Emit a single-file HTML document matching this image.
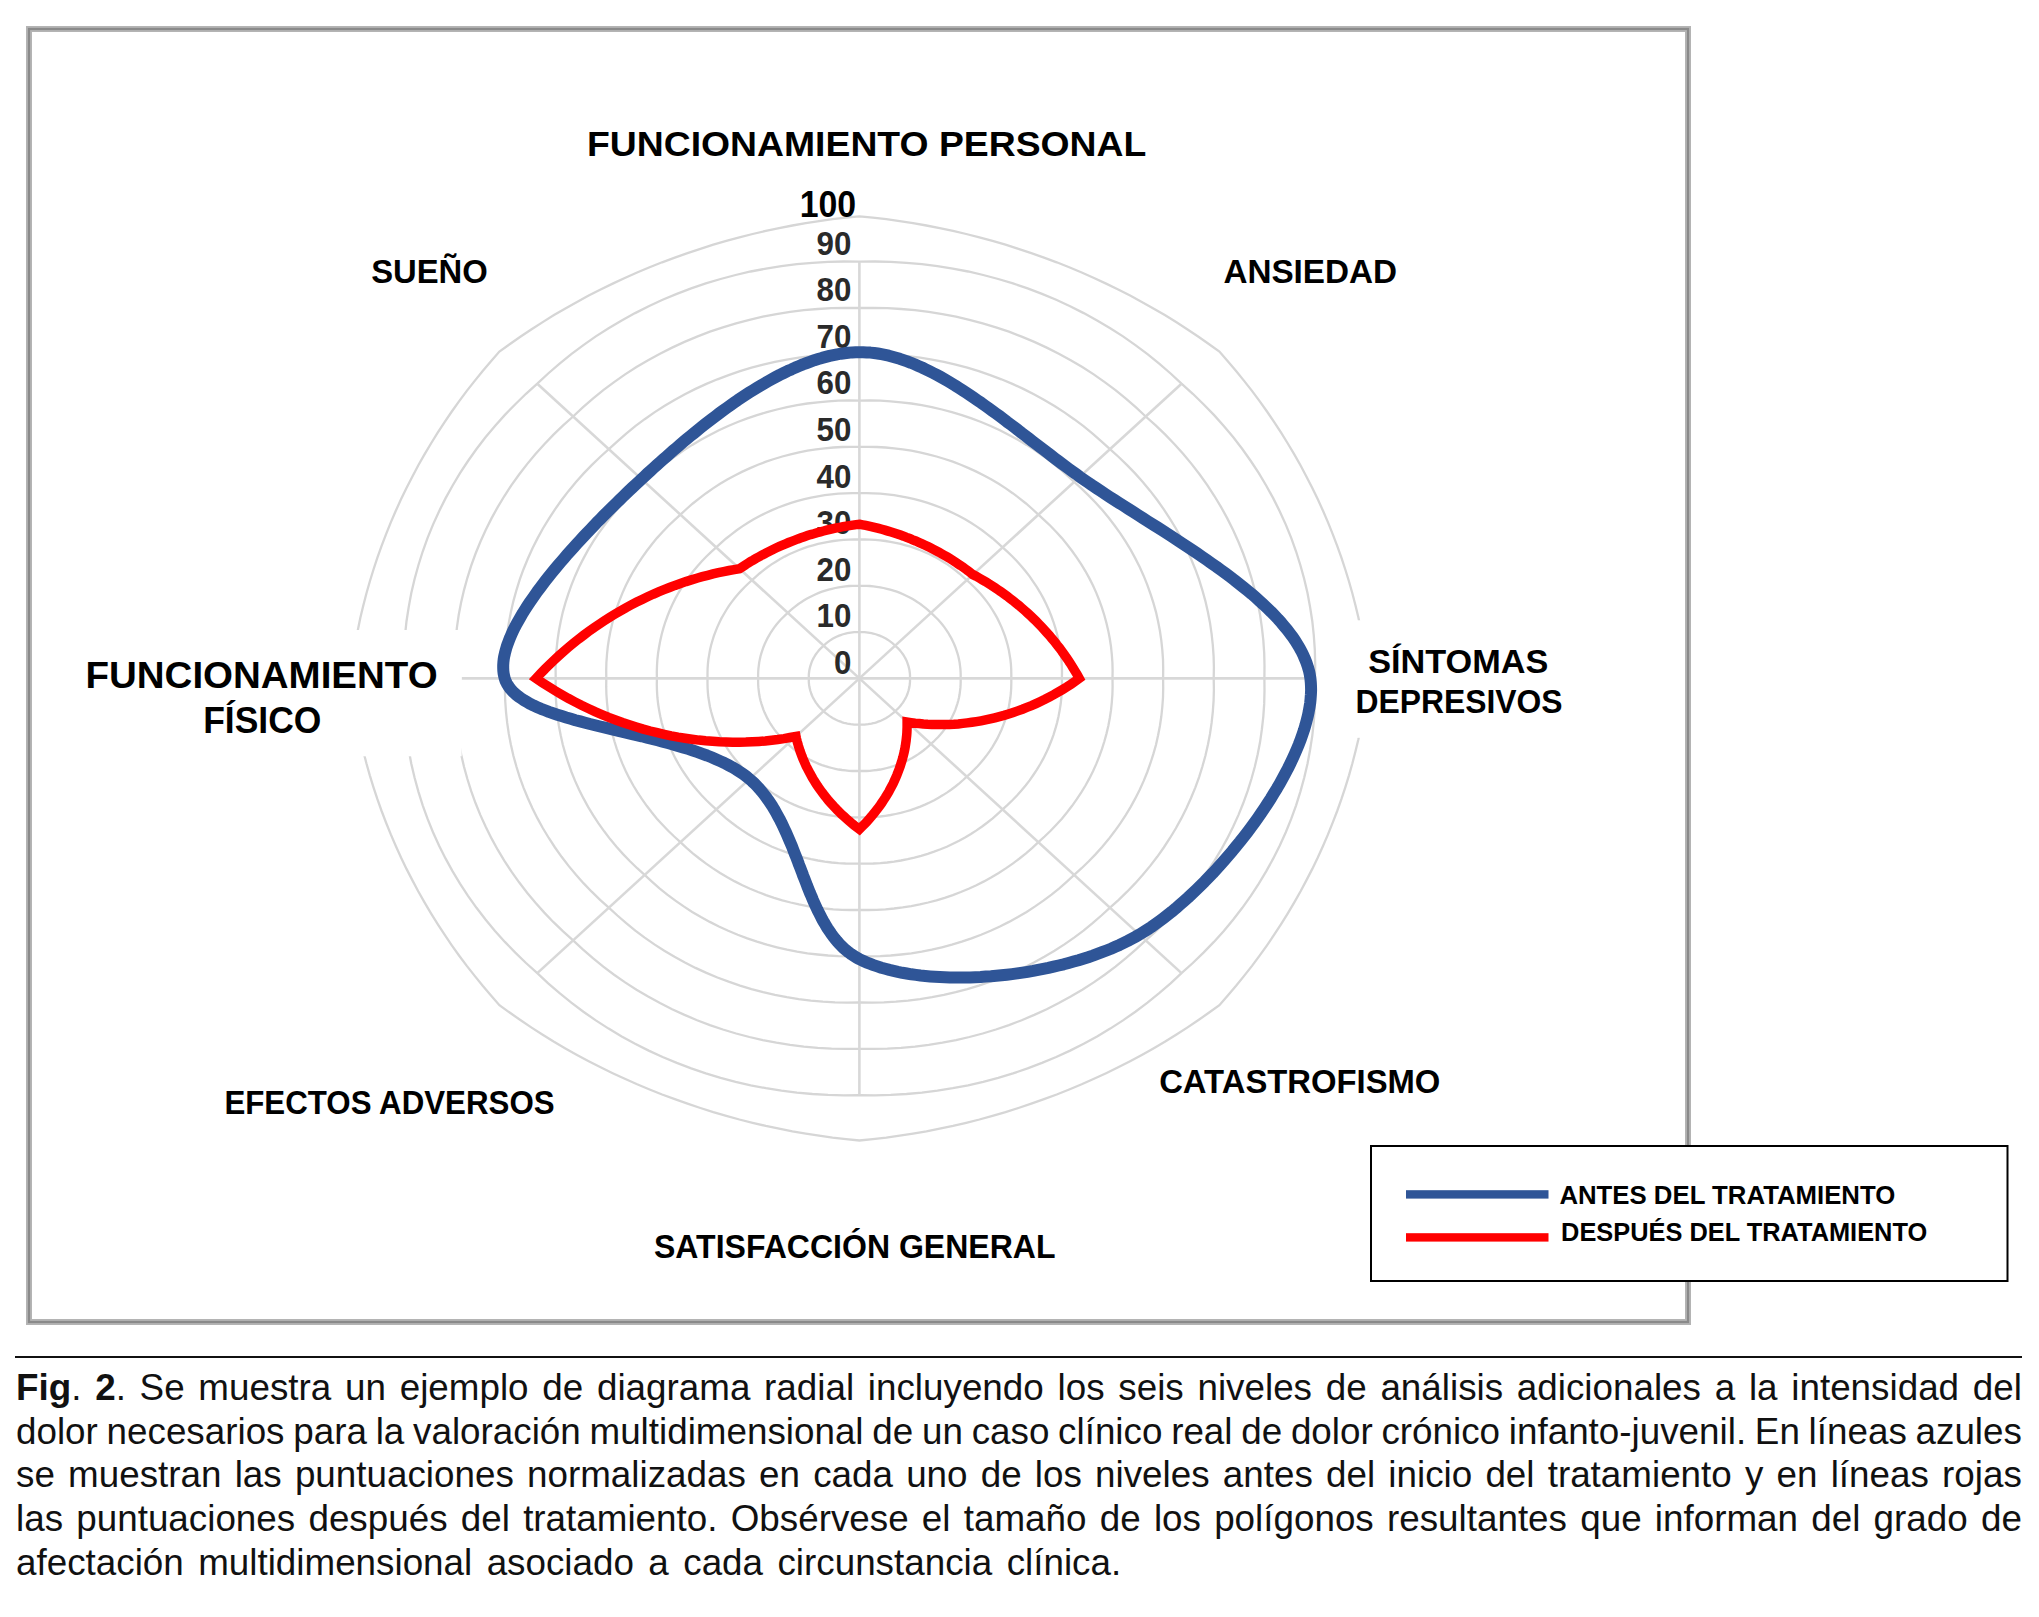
<!DOCTYPE html>
<html><head><meta charset="utf-8">
<style>
html,body{margin:0;padding:0;background:#fff;}
body{width:2039px;height:1617px;position:relative;overflow:hidden;font-family:"Liberation Sans",sans-serif;}
svg{position:absolute;left:0;top:0;}
svg text{font-family:"Liberation Sans",sans-serif;}
.cap{position:absolute;left:16px;width:2006px;height:44px;line-height:44px;font-size:36.8px;color:#111;white-space:nowrap;}
.j{display:flex;justify-content:space-between;}
.cap b{font-weight:bold;}
.rule{position:absolute;left:15px;width:2007px;top:1356px;height:2px;background:#111;}
</style></head>
<body>
<svg width="2039" height="1617" viewBox="0 0 2039 1617">
<defs><filter id="bl" x="-2%" y="-2%" width="104%" height="104%"><feGaussianBlur stdDeviation="0.8"/></filter></defs>
<!-- frame -->
<rect x="29" y="29" width="1659" height="1293" fill="none" stroke="#b4b4b4" stroke-width="6"/>
<rect x="29" y="29" width="1659" height="1293" fill="none" stroke="#8a8a8a" stroke-width="2.2"/>
<g >
<!-- grid -->
<g fill="none" stroke="#d6d6d6" stroke-width="2.3">
<path d="M859.4,632.1 L861.1,632.1 L862.9,632.1 L864.6,632.2 L866.3,632.4 L868.1,632.6 L869.8,632.9 L871.5,633.2 L873.2,633.6 L874.8,634.0 L876.5,634.5 L878.1,635.1 L879.7,635.7 L881.3,636.3 L882.8,637.0 L884.3,637.8 L885.8,638.6 L887.3,639.5 L888.7,640.4 L890.1,641.4 L891.4,642.4 L892.7,643.4 L894.0,644.5 L895.2,645.7 L896.4,646.8 L897.6,647.9 L898.8,649.1 L899.9,650.3 L900.9,651.6 L901.9,652.9 L902.9,654.2 L903.8,655.6 L904.6,657.0 L905.4,658.4 L906.1,659.8 L906.8,661.3 L907.4,662.8 L907.9,664.3 L908.4,665.8 L908.8,667.4 L909.2,668.9 L909.5,670.5 L909.7,672.0 L909.9,673.6 L910.0,675.2 L910.0,676.8 L910.0,678.4 L910.0,680.0 L910.0,681.6 L909.9,683.2 L909.7,684.8 L909.5,686.3 L909.2,687.9 L908.8,689.4 L908.4,691.0 L907.9,692.5 L907.4,694.0 L906.8,695.5 L906.1,697.0 L905.4,698.4 L904.6,699.8 L903.8,701.2 L902.9,702.6 L901.9,703.9 L900.9,705.2 L899.9,706.5 L898.8,707.7 L897.6,708.9 L896.4,710.0 L895.2,711.1 L894.0,712.3 L892.7,713.4 L891.4,714.4 L890.1,715.4 L888.7,716.4 L887.3,717.3 L885.8,718.2 L884.3,719.0 L882.8,719.8 L881.3,720.5 L879.7,721.1 L878.1,721.7 L876.5,722.3 L874.8,722.8 L873.2,723.2 L871.5,723.6 L869.8,723.9 L868.1,724.2 L866.3,724.4 L864.6,724.6 L862.9,724.7 L861.1,724.7 L859.4,724.7 L857.7,724.7 L855.9,724.7 L854.2,724.6 L852.5,724.4 L850.7,724.2 L849.0,723.9 L847.3,723.6 L845.6,723.2 L844.0,722.8 L842.3,722.3 L840.7,721.7 L839.1,721.1 L837.5,720.5 L836.0,719.8 L834.5,719.0 L833.0,718.2 L831.5,717.3 L830.1,716.4 L828.7,715.4 L827.4,714.4 L826.1,713.4 L824.8,712.3 L823.6,711.1 L822.4,710.0 L821.2,708.9 L820.0,707.7 L818.9,706.5 L817.9,705.2 L816.9,703.9 L815.9,702.6 L815.0,701.2 L814.2,699.8 L813.4,698.4 L812.7,697.0 L812.0,695.5 L811.4,694.0 L810.9,692.5 L810.4,691.0 L810.0,689.4 L809.6,687.9 L809.3,686.3 L809.1,684.8 L808.9,683.2 L808.8,681.6 L808.8,680.0 L808.8,678.4 L808.8,676.8 L808.8,675.2 L808.9,673.6 L809.1,672.0 L809.3,670.5 L809.6,668.9 L810.0,667.4 L810.4,665.8 L810.9,664.3 L811.4,662.8 L812.0,661.3 L812.7,659.8 L813.4,658.4 L814.2,657.0 L815.0,655.6 L815.9,654.2 L816.9,652.9 L817.9,651.6 L818.9,650.3 L820.0,649.1 L821.2,647.9 L822.4,646.8 L823.6,645.7 L824.8,644.5 L826.1,643.4 L827.4,642.4 L828.7,641.4 L830.1,640.4 L831.5,639.5 L833.0,638.6 L834.5,637.8 L836.0,637.0 L837.5,636.3 L839.1,635.7 L840.7,635.1 L842.3,634.5 L844.0,634.0 L845.6,633.6 L847.3,633.2 L849.0,632.9 L850.7,632.6 L852.5,632.4 L854.2,632.2 L855.9,632.1 L857.7,632.1 L859.4,632.1 Z"/>
<path d="M859.4,585.8 L862.9,585.8 L866.4,585.8 L869.8,586.0 L873.3,586.4 L876.7,586.8 L880.2,587.3 L883.5,588.0 L886.9,588.8 L890.2,589.6 L893.5,590.6 L896.8,591.7 L900.0,592.9 L903.1,594.3 L906.2,595.7 L909.3,597.2 L912.2,598.8 L915.1,600.6 L918.0,602.4 L920.7,604.3 L923.4,606.3 L926.0,608.4 L928.6,610.6 L931.0,612.9 L933.5,615.1 L935.9,617.5 L938.2,619.8 L940.4,622.3 L942.5,624.8 L944.5,627.4 L946.4,630.1 L948.2,632.8 L949.8,635.6 L951.4,638.4 L952.8,641.3 L954.2,644.2 L955.4,647.2 L956.4,650.2 L957.4,653.2 L958.3,656.3 L959.0,659.4 L959.6,662.5 L960.0,665.7 L960.4,668.9 L960.6,672.0 L960.7,675.2 L960.6,678.4 L960.7,681.6 L960.6,684.8 L960.4,687.9 L960.0,691.1 L959.6,694.3 L959.0,697.4 L958.3,700.5 L957.4,703.6 L956.4,706.6 L955.4,709.6 L954.2,712.6 L952.8,715.5 L951.4,718.4 L949.8,721.2 L948.2,724.0 L946.4,726.7 L944.5,729.4 L942.5,732.0 L940.4,734.5 L938.2,737.0 L935.9,739.3 L933.5,741.7 L931.0,743.9 L928.6,746.2 L926.0,748.4 L923.4,750.5 L920.7,752.5 L918.0,754.4 L915.1,756.2 L912.2,758.0 L909.3,759.6 L906.2,761.1 L903.1,762.5 L900.0,763.9 L896.8,765.1 L893.5,766.2 L890.2,767.2 L886.9,768.0 L883.5,768.8 L880.2,769.5 L876.7,770.0 L873.3,770.4 L869.8,770.8 L866.4,771.0 L862.9,771.0 L859.4,771.0 L855.9,771.0 L852.4,771.0 L849.0,770.8 L845.5,770.4 L842.1,770.0 L838.6,769.5 L835.3,768.8 L831.9,768.0 L828.6,767.2 L825.3,766.2 L822.0,765.1 L818.8,763.9 L815.7,762.5 L812.6,761.1 L809.5,759.6 L806.6,758.0 L803.7,756.2 L800.8,754.4 L798.1,752.5 L795.4,750.5 L792.8,748.4 L790.2,746.2 L787.8,743.9 L785.3,741.7 L782.9,739.3 L780.6,737.0 L778.4,734.5 L776.3,732.0 L774.3,729.4 L772.4,726.7 L770.6,724.0 L769.0,721.2 L767.4,718.4 L766.0,715.5 L764.6,712.6 L763.4,709.6 L762.4,706.6 L761.4,703.6 L760.5,700.5 L759.8,697.4 L759.2,694.3 L758.8,691.1 L758.4,687.9 L758.2,684.8 L758.1,681.6 L758.2,678.4 L758.1,675.2 L758.2,672.0 L758.4,668.9 L758.8,665.7 L759.2,662.5 L759.8,659.4 L760.5,656.3 L761.4,653.2 L762.4,650.2 L763.4,647.2 L764.6,644.2 L766.0,641.3 L767.4,638.4 L769.0,635.6 L770.6,632.8 L772.4,630.1 L774.3,627.4 L776.3,624.8 L778.4,622.3 L780.6,619.8 L782.9,617.5 L785.3,615.1 L787.8,612.9 L790.2,610.6 L792.8,608.4 L795.4,606.3 L798.1,604.3 L800.8,602.4 L803.7,600.6 L806.6,598.8 L809.5,597.2 L812.6,595.7 L815.7,594.3 L818.8,592.9 L822.0,591.7 L825.3,590.6 L828.6,589.6 L831.9,588.8 L835.3,588.0 L838.6,587.3 L842.1,586.8 L845.5,586.4 L849.0,586.0 L852.4,585.8 L855.9,585.8 L859.4,585.8 Z"/>
<path d="M859.4,539.5 L864.6,539.4 L869.8,539.6 L875.1,539.9 L880.2,540.3 L885.4,541.0 L890.5,541.8 L895.6,542.8 L900.7,543.9 L905.7,545.3 L910.6,546.7 L915.5,548.4 L920.3,550.2 L925.0,552.2 L929.6,554.3 L934.2,556.6 L938.6,559.1 L943.0,561.7 L947.3,564.4 L951.4,567.3 L955.4,570.3 L959.3,573.5 L963.1,576.8 L966.8,580.2 L970.5,583.5 L974.1,587.0 L977.6,590.6 L980.9,594.2 L984.0,598.0 L987.0,601.9 L989.9,605.9 L992.5,610.0 L995.0,614.2 L997.4,618.4 L999.5,622.7 L1001.5,627.1 L1003.3,631.6 L1005.0,636.1 L1006.4,640.7 L1007.7,645.3 L1008.8,649.9 L1009.6,654.6 L1010.4,659.3 L1010.9,664.1 L1011.2,668.8 L1011.3,673.6 L1011.3,678.4 L1011.3,683.2 L1011.2,688.0 L1010.9,692.7 L1010.4,697.5 L1009.6,702.2 L1008.8,706.9 L1007.7,711.5 L1006.4,716.1 L1005.0,720.7 L1003.3,725.2 L1001.5,729.7 L999.5,734.1 L997.4,738.4 L995.0,742.6 L992.5,746.8 L989.9,750.9 L987.0,754.9 L984.0,758.8 L980.9,762.6 L977.6,766.2 L974.1,769.8 L970.5,773.3 L966.8,776.6 L963.1,780.0 L959.3,783.3 L955.4,786.5 L951.4,789.5 L947.3,792.4 L943.0,795.1 L938.6,797.7 L934.2,800.2 L929.6,802.5 L925.0,804.6 L920.3,806.6 L915.5,808.4 L910.6,810.1 L905.7,811.5 L900.7,812.9 L895.6,814.0 L890.5,815.0 L885.4,815.8 L880.2,816.5 L875.1,816.9 L869.8,817.2 L864.6,817.4 L859.4,817.3 L854.2,817.4 L849.0,817.2 L843.7,816.9 L838.6,816.5 L833.4,815.8 L828.3,815.0 L823.2,814.0 L818.1,812.9 L813.1,811.5 L808.2,810.1 L803.3,808.4 L798.5,806.6 L793.8,804.6 L789.2,802.5 L784.6,800.2 L780.2,797.7 L775.8,795.1 L771.5,792.4 L767.4,789.5 L763.4,786.5 L759.5,783.3 L755.7,780.0 L752.0,776.6 L748.3,773.3 L744.7,769.8 L741.2,766.2 L737.9,762.6 L734.8,758.8 L731.8,754.9 L728.9,750.9 L726.3,746.8 L723.8,742.6 L721.4,738.4 L719.3,734.1 L717.3,729.7 L715.5,725.2 L713.8,720.7 L712.4,716.1 L711.1,711.5 L710.0,706.9 L709.2,702.2 L708.4,697.5 L707.9,692.7 L707.6,688.0 L707.5,683.2 L707.5,678.4 L707.5,673.6 L707.6,668.8 L707.9,664.1 L708.4,659.3 L709.2,654.6 L710.0,649.9 L711.1,645.3 L712.4,640.7 L713.8,636.1 L715.5,631.6 L717.3,627.1 L719.3,622.7 L721.4,618.4 L723.8,614.2 L726.3,610.0 L728.9,605.9 L731.8,601.9 L734.8,598.0 L737.9,594.2 L741.2,590.6 L744.7,587.0 L748.3,583.5 L752.0,580.2 L755.7,576.8 L759.5,573.5 L763.4,570.3 L767.4,567.3 L771.5,564.4 L775.8,561.7 L780.2,559.1 L784.6,556.6 L789.2,554.3 L793.8,552.2 L798.5,550.2 L803.3,548.4 L808.2,546.7 L813.1,545.3 L818.1,543.9 L823.2,542.8 L828.3,541.8 L833.4,541.0 L838.6,540.3 L843.7,539.9 L849.0,539.6 L854.2,539.4 L859.4,539.5 Z"/>
<path d="M859.4,493.2 L866.4,493.1 L873.3,493.3 L880.3,493.7 L887.2,494.3 L894.1,495.2 L900.9,496.3 L907.7,497.6 L914.4,499.1 L921.1,500.9 L927.7,502.9 L934.1,505.1 L940.5,507.5 L946.8,510.1 L953.0,513.0 L959.1,516.0 L965.1,519.3 L970.9,522.8 L976.5,526.4 L982.1,530.3 L987.4,534.3 L992.7,538.5 L997.7,542.9 L1002.6,547.4 L1007.6,551.9 L1012.4,556.5 L1017.0,561.3 L1021.4,566.2 L1025.6,571.3 L1029.6,576.4 L1033.3,581.8 L1036.9,587.2 L1040.3,592.8 L1043.4,598.4 L1046.3,604.2 L1048.9,610.0 L1051.3,616.0 L1053.5,622.0 L1055.4,628.1 L1057.1,634.2 L1058.5,640.4 L1059.7,646.7 L1060.7,653.0 L1061.4,659.3 L1061.8,665.7 L1062.0,672.0 L1061.9,678.4 L1062.0,684.8 L1061.8,691.1 L1061.4,697.5 L1060.7,703.8 L1059.7,710.1 L1058.5,716.4 L1057.1,722.6 L1055.4,728.7 L1053.5,734.8 L1051.3,740.8 L1048.9,746.8 L1046.3,752.6 L1043.4,758.4 L1040.3,764.0 L1036.9,769.6 L1033.3,775.0 L1029.6,780.4 L1025.6,785.5 L1021.4,790.6 L1017.0,795.5 L1012.4,800.3 L1007.6,804.9 L1002.6,809.4 L997.7,813.9 L992.7,818.3 L987.4,822.5 L982.1,826.5 L976.5,830.4 L970.9,834.0 L965.1,837.5 L959.1,840.8 L953.0,843.8 L946.8,846.7 L940.5,849.3 L934.1,851.7 L927.7,853.9 L921.1,855.9 L914.4,857.7 L907.7,859.2 L900.9,860.5 L894.1,861.6 L887.2,862.5 L880.3,863.1 L873.3,863.5 L866.4,863.7 L859.4,863.6 L852.4,863.7 L845.5,863.5 L838.5,863.1 L831.6,862.5 L824.7,861.6 L817.9,860.5 L811.1,859.2 L804.4,857.7 L797.7,855.9 L791.1,853.9 L784.7,851.7 L778.3,849.3 L772.0,846.7 L765.8,843.8 L759.7,840.8 L753.7,837.5 L747.9,834.0 L742.3,830.4 L736.7,826.5 L731.4,822.5 L726.1,818.3 L721.1,813.9 L716.2,809.4 L711.2,804.9 L706.4,800.3 L701.8,795.5 L697.4,790.6 L693.2,785.5 L689.2,780.4 L685.5,775.0 L681.9,769.6 L678.5,764.0 L675.4,758.4 L672.5,752.6 L669.9,746.8 L667.5,740.8 L665.3,734.8 L663.4,728.7 L661.7,722.6 L660.3,716.4 L659.1,710.1 L658.1,703.8 L657.4,697.5 L657.0,691.1 L656.8,684.8 L656.9,678.4 L656.8,672.0 L657.0,665.7 L657.4,659.3 L658.1,653.0 L659.1,646.7 L660.3,640.4 L661.7,634.2 L663.4,628.1 L665.3,622.0 L667.5,616.0 L669.9,610.0 L672.5,604.2 L675.4,598.4 L678.5,592.8 L681.9,587.2 L685.5,581.8 L689.2,576.4 L693.2,571.3 L697.4,566.2 L701.8,561.3 L706.4,556.5 L711.2,551.9 L716.2,547.4 L721.1,542.9 L726.1,538.5 L731.4,534.3 L736.7,530.3 L742.3,526.4 L747.9,522.8 L753.7,519.3 L759.7,516.0 L765.8,513.0 L772.0,510.1 L778.3,507.5 L784.7,505.1 L791.1,502.9 L797.7,500.9 L804.4,499.1 L811.1,497.6 L817.9,496.3 L824.7,495.2 L831.6,494.3 L838.5,493.7 L845.5,493.3 L852.4,493.1 L859.4,493.2 Z"/>
<path d="M859.4,446.9 L868.1,446.8 L876.8,447.0 L885.5,447.5 L894.1,448.3 L902.7,449.4 L911.3,450.7 L919.8,452.4 L928.2,454.3 L936.5,456.5 L944.7,459.0 L952.8,461.7 L960.8,464.8 L968.7,468.1 L976.4,471.6 L984.0,475.4 L991.5,479.5 L998.7,483.8 L1005.8,488.4 L1012.7,493.2 L1019.5,498.3 L1026.0,503.5 L1032.3,509.0 L1038.4,514.7 L1044.6,520.3 L1050.6,526.0 L1056.3,532.0 L1061.9,538.1 L1067.1,544.5 L1072.1,551.0 L1076.8,557.6 L1081.3,564.4 L1085.5,571.3 L1089.4,578.4 L1093.0,585.6 L1096.3,592.9 L1099.3,600.4 L1102.0,607.9 L1104.4,615.5 L1106.5,623.2 L1108.3,630.9 L1109.8,638.8 L1111.0,646.6 L1111.8,654.5 L1112.4,662.5 L1112.6,670.4 L1112.5,678.4 L1112.6,686.4 L1112.4,694.3 L1111.8,702.3 L1111.0,710.2 L1109.8,718.0 L1108.3,725.9 L1106.5,733.6 L1104.4,741.3 L1102.0,748.9 L1099.3,756.4 L1096.3,763.9 L1093.0,771.2 L1089.4,778.4 L1085.5,785.5 L1081.3,792.4 L1076.8,799.2 L1072.1,805.8 L1067.1,812.3 L1061.9,818.7 L1056.3,824.8 L1050.6,830.8 L1044.6,836.5 L1038.4,842.1 L1032.3,847.8 L1026.0,853.3 L1019.5,858.5 L1012.7,863.6 L1005.8,868.4 L998.7,873.0 L991.5,877.3 L984.0,881.4 L976.4,885.2 L968.7,888.7 L960.8,892.0 L952.8,895.1 L944.7,897.8 L936.5,900.3 L928.2,902.5 L919.8,904.4 L911.3,906.1 L902.7,907.4 L894.1,908.5 L885.5,909.3 L876.8,909.8 L868.1,910.0 L859.4,909.9 L850.7,910.0 L842.0,909.8 L833.3,909.3 L824.7,908.5 L816.1,907.4 L807.5,906.1 L799.0,904.4 L790.6,902.5 L782.3,900.3 L774.1,897.8 L766.0,895.1 L758.0,892.0 L750.1,888.7 L742.4,885.2 L734.8,881.4 L727.3,877.3 L720.1,873.0 L713.0,868.4 L706.1,863.6 L699.3,858.5 L692.8,853.3 L686.5,847.8 L680.4,842.1 L674.2,836.5 L668.2,830.8 L662.5,824.8 L656.9,818.7 L651.7,812.3 L646.7,805.8 L642.0,799.2 L637.5,792.4 L633.3,785.5 L629.4,778.4 L625.8,771.2 L622.5,763.9 L619.5,756.4 L616.8,748.9 L614.4,741.3 L612.3,733.6 L610.5,725.9 L609.0,718.0 L607.8,710.2 L607.0,702.3 L606.4,694.3 L606.2,686.4 L606.3,678.4 L606.2,670.4 L606.4,662.5 L607.0,654.5 L607.8,646.6 L609.0,638.8 L610.5,630.9 L612.3,623.2 L614.4,615.5 L616.8,607.9 L619.5,600.4 L622.5,592.9 L625.8,585.6 L629.4,578.4 L633.3,571.3 L637.5,564.4 L642.0,557.6 L646.7,551.0 L651.7,544.5 L656.9,538.1 L662.5,532.0 L668.2,526.0 L674.2,520.3 L680.4,514.7 L686.5,509.0 L692.8,503.5 L699.3,498.3 L706.1,493.2 L713.0,488.4 L720.1,483.8 L727.3,479.5 L734.8,475.4 L742.4,471.6 L750.1,468.1 L758.0,464.8 L766.0,461.7 L774.1,459.0 L782.3,456.5 L790.6,454.3 L799.0,452.4 L807.5,450.7 L816.1,449.4 L824.7,448.3 L833.3,447.5 L842.0,447.0 L850.7,446.8 L859.4,446.9 Z"/>
<path d="M859.4,400.6 L869.9,400.5 L880.3,400.7 L890.7,401.3 L901.1,402.3 L911.4,403.5 L921.7,405.2 L931.8,407.1 L941.9,409.5 L951.9,412.1 L961.8,415.1 L971.5,418.4 L981.1,422.0 L990.6,426.0 L999.9,430.3 L1009.0,434.9 L1017.9,439.7 L1026.6,444.9 L1035.1,450.4 L1043.4,456.2 L1051.5,462.2 L1059.3,468.5 L1066.9,475.1 L1074.2,482.0 L1081.6,488.6 L1088.8,495.6 L1095.7,502.7 L1102.3,510.1 L1108.7,517.7 L1114.6,525.5 L1120.3,533.4 L1125.7,541.6 L1130.7,549.9 L1135.3,558.4 L1139.7,567.1 L1143.7,575.9 L1147.3,584.8 L1150.5,593.8 L1153.4,602.9 L1156.0,612.1 L1158.1,621.5 L1159.9,630.8 L1161.3,640.3 L1162.3,649.8 L1163.0,659.3 L1163.2,668.8 L1163.1,678.4 L1163.2,688.0 L1163.0,697.5 L1162.3,707.0 L1161.3,716.5 L1159.9,726.0 L1158.1,735.3 L1156.0,744.7 L1153.4,753.9 L1150.5,763.0 L1147.3,772.0 L1143.7,780.9 L1139.7,789.7 L1135.3,798.4 L1130.7,806.9 L1125.7,815.2 L1120.3,823.4 L1114.6,831.3 L1108.7,839.1 L1102.3,846.7 L1095.7,854.1 L1088.8,861.2 L1081.6,868.2 L1074.2,874.8 L1066.9,881.7 L1059.3,888.3 L1051.5,894.6 L1043.4,900.6 L1035.1,906.4 L1026.6,911.9 L1017.9,917.1 L1009.0,921.9 L999.9,926.5 L990.6,930.8 L981.1,934.8 L971.5,938.4 L961.8,941.7 L951.9,944.7 L941.9,947.3 L931.8,949.7 L921.7,951.6 L911.4,953.3 L901.1,954.5 L890.7,955.5 L880.3,956.1 L869.9,956.3 L859.4,956.2 L848.9,956.3 L838.5,956.1 L828.1,955.5 L817.7,954.5 L807.4,953.3 L797.1,951.6 L787.0,949.7 L776.9,947.3 L766.9,944.7 L757.0,941.7 L747.3,938.4 L737.7,934.8 L728.2,930.8 L718.9,926.5 L709.8,921.9 L700.9,917.1 L692.2,911.9 L683.7,906.4 L675.4,900.6 L667.3,894.6 L659.5,888.3 L651.9,881.7 L644.6,874.8 L637.2,868.2 L630.0,861.2 L623.1,854.1 L616.5,846.7 L610.1,839.1 L604.2,831.3 L598.5,823.4 L593.1,815.2 L588.1,806.9 L583.5,798.4 L579.1,789.7 L575.1,780.9 L571.5,772.0 L568.3,763.0 L565.4,753.9 L562.8,744.7 L560.7,735.3 L558.9,726.0 L557.5,716.5 L556.5,707.0 L555.8,697.5 L555.6,688.0 L555.7,678.4 L555.6,668.8 L555.8,659.3 L556.5,649.8 L557.5,640.3 L558.9,630.8 L560.7,621.5 L562.8,612.1 L565.4,602.9 L568.3,593.8 L571.5,584.8 L575.1,575.9 L579.1,567.1 L583.5,558.4 L588.1,549.9 L593.1,541.6 L598.5,533.4 L604.2,525.5 L610.1,517.7 L616.5,510.1 L623.1,502.7 L630.0,495.6 L637.2,488.6 L644.6,482.0 L651.9,475.1 L659.5,468.5 L667.3,462.2 L675.4,456.2 L683.7,450.4 L692.2,444.9 L700.9,439.7 L709.8,434.9 L718.9,430.3 L728.2,426.0 L737.7,422.0 L747.3,418.4 L757.0,415.1 L766.9,412.1 L776.9,409.5 L787.0,407.1 L797.1,405.2 L807.4,403.5 L817.7,402.3 L828.1,401.3 L838.5,400.7 L848.9,400.5 L859.4,400.6 Z"/>
<path d="M859.4,354.3 L871.6,354.2 L883.8,354.5 L895.9,355.1 L908.0,356.2 L920.1,357.7 L932.0,359.6 L943.9,361.9 L955.7,364.6 L967.3,367.7 L978.8,371.2 L990.2,375.1 L1001.4,379.3 L1012.4,383.9 L1023.3,388.9 L1033.9,394.3 L1044.3,400.0 L1054.5,406.0 L1064.4,412.4 L1074.1,419.2 L1083.5,426.2 L1092.6,433.6 L1101.4,441.3 L1110.0,449.2 L1118.7,457.0 L1127.1,465.1 L1135.1,473.4 L1142.8,482.0 L1150.2,490.9 L1157.2,500.0 L1163.8,509.3 L1170.0,518.8 L1175.9,528.5 L1181.3,538.4 L1186.4,548.5 L1191.0,558.8 L1195.3,569.2 L1199.1,579.7 L1202.4,590.3 L1205.4,601.1 L1207.9,612.0 L1210.0,622.9 L1211.6,633.9 L1212.8,645.0 L1213.6,656.1 L1213.9,667.2 L1213.7,678.4 L1213.9,689.6 L1213.6,700.7 L1212.8,711.8 L1211.6,722.9 L1210.0,733.9 L1207.9,744.8 L1205.4,755.7 L1202.4,766.5 L1199.1,777.1 L1195.3,787.6 L1191.0,798.0 L1186.4,808.3 L1181.3,818.4 L1175.9,828.3 L1170.0,838.0 L1163.8,847.5 L1157.2,856.8 L1150.2,865.9 L1142.8,874.8 L1135.1,883.4 L1127.1,891.7 L1118.7,899.8 L1110.0,907.6 L1101.4,915.5 L1092.6,923.2 L1083.5,930.6 L1074.1,937.6 L1064.4,944.4 L1054.5,950.8 L1044.3,956.8 L1033.9,962.5 L1023.3,967.9 L1012.4,972.9 L1001.4,977.5 L990.2,981.7 L978.8,985.6 L967.3,989.1 L955.7,992.2 L943.9,994.9 L932.0,997.2 L920.1,999.1 L908.0,1000.6 L895.9,1001.7 L883.8,1002.3 L871.6,1002.6 L859.4,1002.5 L847.2,1002.6 L835.0,1002.3 L822.9,1001.7 L810.8,1000.6 L798.7,999.1 L786.8,997.2 L774.9,994.9 L763.1,992.2 L751.5,989.1 L740.0,985.6 L728.6,981.7 L717.4,977.5 L706.4,972.9 L695.5,967.9 L684.9,962.5 L674.5,956.8 L664.3,950.8 L654.4,944.4 L644.7,937.6 L635.3,930.6 L626.2,923.2 L617.4,915.5 L608.8,907.6 L600.1,899.8 L591.7,891.7 L583.7,883.4 L576.0,874.8 L568.6,865.9 L561.6,856.8 L555.0,847.5 L548.8,838.0 L542.9,828.3 L537.5,818.4 L532.4,808.3 L527.8,798.0 L523.5,787.6 L519.7,777.1 L516.4,766.5 L513.4,755.7 L510.9,744.8 L508.8,733.9 L507.2,722.9 L506.0,711.8 L505.2,700.7 L504.9,689.6 L505.1,678.4 L504.9,667.2 L505.2,656.1 L506.0,645.0 L507.2,633.9 L508.8,622.9 L510.9,612.0 L513.4,601.1 L516.4,590.3 L519.7,579.7 L523.5,569.2 L527.8,558.8 L532.4,548.5 L537.5,538.4 L542.9,528.5 L548.8,518.8 L555.0,509.3 L561.6,500.0 L568.6,490.9 L576.0,482.0 L583.7,473.4 L591.7,465.1 L600.1,457.0 L608.8,449.2 L617.4,441.3 L626.2,433.6 L635.3,426.2 L644.7,419.2 L654.4,412.4 L664.3,406.0 L674.5,400.0 L684.9,394.3 L695.5,388.9 L706.4,383.9 L717.4,379.3 L728.6,375.1 L740.0,371.2 L751.5,367.7 L763.1,364.6 L774.9,361.9 L786.8,359.6 L798.7,357.7 L810.8,356.2 L822.9,355.1 L835.0,354.5 L847.2,354.2 L859.4,354.3 Z"/>
<path d="M859.4,308.0 L873.3,307.9 L887.3,308.2 L901.1,309.0 L915.0,310.2 L928.7,311.9 L942.4,314.1 L956.0,316.7 L969.4,319.8 L982.7,323.3 L995.9,327.3 L1008.9,331.7 L1021.7,336.6 L1034.3,341.9 L1046.7,347.6 L1058.8,353.7 L1070.7,360.2 L1082.3,367.1 L1093.7,374.4 L1104.7,382.1 L1115.5,390.2 L1125.9,398.6 L1136.0,407.4 L1145.7,416.5 L1155.7,425.4 L1165.3,434.6 L1174.5,444.2 L1183.3,454.0 L1191.7,464.1 L1199.7,474.5 L1207.3,485.1 L1214.4,496.0 L1221.1,507.1 L1227.3,518.4 L1233.1,530.0 L1238.4,541.7 L1243.2,553.5 L1247.6,565.6 L1251.4,577.8 L1254.8,590.1 L1257.7,602.5 L1260.1,615.0 L1261.9,627.6 L1263.3,640.2 L1264.2,652.9 L1264.5,665.7 L1264.4,678.4 L1264.5,691.1 L1264.2,703.9 L1263.3,716.6 L1261.9,729.2 L1260.1,741.8 L1257.7,754.3 L1254.8,766.7 L1251.4,779.0 L1247.6,791.2 L1243.2,803.3 L1238.4,815.1 L1233.1,826.8 L1227.3,838.4 L1221.1,849.7 L1214.4,860.8 L1207.3,871.7 L1199.7,882.3 L1191.7,892.7 L1183.3,902.8 L1174.5,912.6 L1165.3,922.2 L1155.7,931.4 L1145.7,940.3 L1136.0,949.4 L1125.9,958.2 L1115.5,966.6 L1104.7,974.7 L1093.7,982.4 L1082.3,989.7 L1070.7,996.6 L1058.8,1003.1 L1046.7,1009.2 L1034.3,1014.9 L1021.7,1020.2 L1008.9,1025.1 L995.9,1029.5 L982.7,1033.5 L969.4,1037.0 L956.0,1040.1 L942.4,1042.7 L928.7,1044.9 L915.0,1046.6 L901.1,1047.8 L887.3,1048.6 L873.3,1048.9 L859.4,1048.8 L845.5,1048.9 L831.5,1048.6 L817.7,1047.8 L803.8,1046.6 L790.1,1044.9 L776.4,1042.7 L762.8,1040.1 L749.4,1037.0 L736.1,1033.5 L722.9,1029.5 L709.9,1025.1 L697.1,1020.2 L684.5,1014.9 L672.1,1009.2 L660.0,1003.1 L648.1,996.6 L636.5,989.7 L625.1,982.4 L614.1,974.7 L603.3,966.6 L592.9,958.2 L582.8,949.4 L573.1,940.3 L563.1,931.4 L553.5,922.2 L544.3,912.6 L535.5,902.8 L527.1,892.7 L519.1,882.3 L511.5,871.7 L504.4,860.8 L497.7,849.7 L491.5,838.4 L485.7,826.8 L480.4,815.1 L475.6,803.3 L471.2,791.2 L467.4,779.0 L464.0,766.7 L461.1,754.3 L458.7,741.8 L456.9,729.2 L455.5,716.6 L454.6,703.9 L454.3,691.1 L454.4,678.4 L454.3,665.7 L454.6,652.9 L455.5,640.2 L456.9,627.6 L458.7,615.0 L461.1,602.5 L464.0,590.1 L467.4,577.8 L471.2,565.6 L475.6,553.5 L480.4,541.7 L485.7,530.0 L491.5,518.4 L497.7,507.1 L504.4,496.0 L511.5,485.1 L519.1,474.5 L527.1,464.1 L535.5,454.0 L544.3,444.2 L553.5,434.6 L563.1,425.4 L573.1,416.5 L582.8,407.4 L592.9,398.6 L603.3,390.2 L614.1,382.1 L625.1,374.4 L636.5,367.1 L648.1,360.2 L660.0,353.7 L672.1,347.6 L684.5,341.9 L697.1,336.6 L709.9,331.7 L722.9,327.3 L736.1,323.3 L749.4,319.8 L762.8,316.7 L776.4,314.1 L790.1,311.9 L803.8,310.2 L817.7,309.0 L831.5,308.2 L845.5,307.9 L859.4,308.0 Z"/>
<path d="M859.4,261.7 L875.1,261.5 L890.7,261.9 L906.4,262.8 L921.9,264.2 L937.4,266.1 L952.8,268.6 L968.1,271.5 L983.2,275.0 L998.2,279.0 L1013.0,283.4 L1027.6,288.4 L1042.0,293.9 L1056.2,299.8 L1070.1,306.2 L1083.7,313.1 L1097.1,320.4 L1110.2,328.2 L1123.0,336.4 L1135.4,345.1 L1147.5,354.1 L1159.2,363.6 L1170.6,373.5 L1181.5,383.7 L1192.8,393.8 L1203.5,404.2 L1213.9,414.9 L1223.8,425.9 L1233.3,437.3 L1242.3,449.0 L1250.8,461.0 L1258.8,473.2 L1266.3,485.7 L1273.3,498.4 L1279.8,511.4 L1285.8,524.6 L1291.2,537.9 L1296.1,551.5 L1300.4,565.2 L1304.2,579.0 L1307.5,593.0 L1310.1,607.1 L1312.3,621.2 L1313.8,635.5 L1314.8,649.7 L1315.2,664.1 L1315.0,678.4 L1315.2,692.7 L1314.8,707.1 L1313.8,721.3 L1312.3,735.6 L1310.1,749.7 L1307.5,763.8 L1304.2,777.8 L1300.4,791.6 L1296.1,805.3 L1291.2,818.9 L1285.8,832.2 L1279.8,845.4 L1273.3,858.4 L1266.3,871.1 L1258.8,883.6 L1250.8,895.8 L1242.3,907.8 L1233.3,919.5 L1223.8,930.9 L1213.9,941.9 L1203.5,952.6 L1192.8,963.0 L1181.5,973.1 L1170.6,983.3 L1159.2,993.2 L1147.5,1002.7 L1135.4,1011.7 L1123.0,1020.4 L1110.2,1028.6 L1097.1,1036.4 L1083.7,1043.7 L1070.1,1050.6 L1056.2,1057.0 L1042.0,1062.9 L1027.6,1068.4 L1013.0,1073.4 L998.2,1077.8 L983.2,1081.8 L968.1,1085.3 L952.8,1088.2 L937.4,1090.7 L921.9,1092.6 L906.4,1094.0 L890.7,1094.9 L875.1,1095.3 L859.4,1095.1 L843.7,1095.3 L828.1,1094.9 L812.4,1094.0 L796.9,1092.6 L781.4,1090.7 L766.0,1088.2 L750.7,1085.3 L735.6,1081.8 L720.6,1077.8 L705.8,1073.4 L691.2,1068.4 L676.8,1062.9 L662.6,1057.0 L648.7,1050.6 L635.1,1043.7 L621.7,1036.4 L608.6,1028.6 L595.8,1020.4 L583.4,1011.7 L571.3,1002.7 L559.6,993.2 L548.2,983.3 L537.3,973.1 L526.0,963.0 L515.3,952.6 L504.9,941.9 L495.0,930.9 L485.5,919.5 L476.5,907.8 L468.0,895.8 L460.0,883.6 L452.5,871.1 L445.5,858.4 L439.0,845.4 L433.0,832.2 L427.6,818.9 L422.7,805.3 L418.4,791.6 L414.6,777.8 L411.3,763.8 L408.7,749.7 L406.5,735.6 L405.0,721.3 L404.0,707.1 L403.6,692.7 L403.8,678.4 L403.6,664.1 L404.0,649.7 L405.0,635.5 L406.5,621.2 L408.7,607.1 L411.3,593.0 L414.6,579.0 L418.4,565.2 L422.7,551.5 L427.6,537.9 L433.0,524.6 L439.0,511.4 L445.5,498.4 L452.5,485.7 L460.0,473.2 L468.0,461.0 L476.5,449.0 L485.5,437.3 L495.0,425.9 L504.9,414.9 L515.3,404.2 L526.0,393.8 L537.3,383.7 L548.2,373.5 L559.6,363.6 L571.3,354.1 L583.4,345.1 L595.8,336.4 L608.6,328.2 L621.7,320.4 L635.1,313.1 L648.7,306.2 L662.6,299.8 L676.8,293.9 L691.2,288.4 L705.8,283.4 L720.6,279.0 L735.6,275.0 L750.7,271.5 L766.0,268.6 L781.4,266.1 L796.9,264.2 L812.4,262.8 L828.1,261.9 L843.7,261.5 L859.4,261.7 Z"/>
<path d="M859.4,216.3 L872.8,217.6 L886.3,219.2 L899.7,221.1 L913.0,223.2 L926.4,225.5 L939.7,228.1 L953.0,230.9 L966.2,234.0 L979.4,237.3 L992.5,240.9 L1005.5,244.7 L1018.4,248.8 L1031.3,253.1 L1044.0,257.6 L1056.7,262.3 L1069.2,267.3 L1081.7,272.5 L1094.0,278.0 L1106.1,283.6 L1118.2,289.5 L1130.1,295.6 L1141.8,301.9 L1153.4,308.4 L1164.8,315.1 L1176.1,322.1 L1187.2,329.2 L1198.1,336.5 L1208.8,344.0 L1219.4,351.6 L1227.8,361.2 L1236.1,371.0 L1244.1,380.9 L1252.0,390.9 L1259.6,401.1 L1267.0,411.5 L1274.2,422.1 L1281.1,432.7 L1287.8,443.5 L1294.3,454.4 L1300.6,465.5 L1306.5,476.7 L1312.3,487.9 L1317.8,499.3 L1323.0,510.8 L1328.0,522.4 L1332.7,534.1 L1337.2,545.8 L1341.4,557.6 L1345.3,569.5 L1349.0,581.5 L1352.4,593.5 L1355.5,605.5 L1358.4,617.6 L1360.9,629.7 L1363.2,641.9 L1365.3,654.0 L1367.0,666.2 L1368.5,678.4 L1367.0,690.6 L1365.3,702.8 L1363.2,714.9 L1360.9,727.1 L1358.4,739.2 L1355.5,751.3 L1352.4,763.3 L1349.0,775.3 L1345.3,787.3 L1341.4,799.2 L1337.2,811.0 L1332.7,822.7 L1328.0,834.4 L1323.0,846.0 L1317.8,857.5 L1312.3,868.9 L1306.5,880.1 L1300.6,891.3 L1294.3,902.4 L1287.8,913.3 L1281.1,924.1 L1274.2,934.7 L1267.0,945.3 L1259.6,955.7 L1252.0,965.9 L1244.1,975.9 L1236.1,985.8 L1227.8,995.6 L1219.4,1005.2 L1208.8,1012.8 L1198.1,1020.3 L1187.2,1027.6 L1176.1,1034.7 L1164.8,1041.7 L1153.4,1048.4 L1141.8,1054.9 L1130.1,1061.2 L1118.2,1067.3 L1106.1,1073.2 L1094.0,1078.8 L1081.7,1084.3 L1069.2,1089.5 L1056.7,1094.5 L1044.0,1099.2 L1031.3,1103.7 L1018.4,1108.0 L1005.5,1112.1 L992.5,1115.9 L979.4,1119.5 L966.2,1122.8 L953.0,1125.9 L939.7,1128.7 L926.4,1131.3 L913.0,1133.6 L899.7,1135.7 L886.3,1137.6 L872.8,1139.2 L859.4,1140.5 L846.0,1139.2 L832.5,1137.6 L819.1,1135.7 L805.8,1133.6 L792.4,1131.3 L779.1,1128.7 L765.8,1125.9 L752.6,1122.8 L739.4,1119.5 L726.3,1115.9 L713.3,1112.1 L700.4,1108.0 L687.5,1103.7 L674.8,1099.2 L662.1,1094.5 L649.6,1089.5 L637.1,1084.3 L624.8,1078.8 L612.7,1073.2 L600.6,1067.3 L588.7,1061.2 L577.0,1054.9 L565.4,1048.4 L554.0,1041.7 L542.7,1034.7 L531.6,1027.6 L520.7,1020.3 L510.0,1012.8 L499.4,1005.2 L491.0,995.6 L482.7,985.8 L474.7,975.9 L466.8,965.9 L459.2,955.7 L451.8,945.3 L444.6,934.7 L437.7,924.1 L431.0,913.3 L424.5,902.4 L418.2,891.3 L412.3,880.1 L406.5,868.9 L401.0,857.5 L395.8,846.0 L390.8,834.4 L386.1,822.7 L381.6,811.0 L377.4,799.2 L373.5,787.3 L369.8,775.3 L366.4,763.3 L363.3,751.3 L360.4,739.2 L357.9,727.1 L355.6,714.9 L353.5,702.8 L351.8,690.6 L350.3,678.4 L351.8,666.2 L353.5,654.0 L355.6,641.9 L357.9,629.7 L360.4,617.6 L363.3,605.5 L366.4,593.5 L369.8,581.5 L373.5,569.5 L377.4,557.6 L381.6,545.8 L386.1,534.1 L390.8,522.4 L395.8,510.8 L401.0,499.3 L406.5,487.9 L412.3,476.7 L418.2,465.5 L424.5,454.4 L431.0,443.5 L437.7,432.7 L444.6,422.1 L451.8,411.5 L459.2,401.1 L466.8,390.9 L474.7,380.9 L482.7,371.0 L491.0,361.2 L499.4,351.6 L510.0,344.0 L520.7,336.5 L531.6,329.2 L542.7,322.1 L554.0,315.1 L565.4,308.4 L577.0,301.9 L588.7,295.6 L600.6,289.5 L612.7,283.6 L624.8,278.0 L637.1,272.5 L649.6,267.3 L662.1,262.3 L674.8,257.6 L687.5,253.1 L700.4,248.8 L713.3,244.7 L726.3,240.9 L739.4,237.3 L752.6,234.0 L765.8,230.9 L779.1,228.1 L792.4,225.5 L805.8,223.2 L819.1,221.1 L832.5,219.2 L846.0,217.6 L859.4,216.3 Z"/>
</g>
<g stroke="#d8d8d8" stroke-width="2.6">
<line x1="859.4" y1="678.4" x2="859.4" y2="261.7"/>
<line x1="859.4" y1="678.4" x2="1181.5" y2="383.7"/>
<line x1="859.4" y1="678.4" x2="1315.0" y2="678.4"/>
<line x1="859.4" y1="678.4" x2="1181.5" y2="973.1"/>
<line x1="859.4" y1="678.4" x2="859.4" y2="1095.1"/>
<line x1="859.4" y1="678.4" x2="537.3" y2="973.1"/>
<line x1="859.4" y1="678.4" x2="461.6" y2="678.4"/>
<line x1="859.4" y1="678.4" x2="537.3" y2="383.7"/>
</g>
<!-- white boxes behind side labels -->
<rect x="60" y="630" width="401.6" height="126.3" fill="#fff"/>
<rect x="1345" y="620.3" width="240" height="117.5" fill="#fff"/>
<!-- axis labels -->
<g style="font-size:31.3px;font-weight:bold;" fill="#2a2a2a" text-anchor="end">
<text transform="translate(851.3 673.8) scale(1 1.06)">0</text>
<text transform="translate(851.3 627.2) scale(1 1.06)">10</text>
<text transform="translate(851.3 580.7) scale(1 1.06)">20</text>
<text transform="translate(851.3 534.1) scale(1 1.06)">30</text>
<text transform="translate(851.3 487.6) scale(1 1.06)">40</text>
<text transform="translate(851.3 441.0) scale(1 1.06)">50</text>
<text transform="translate(851.3 394.4) scale(1 1.06)">60</text>
<text transform="translate(851.3 347.9) scale(1 1.06)">70</text>
<text transform="translate(851.3 301.3) scale(1 1.06)">80</text>
<text transform="translate(851.3 254.8) scale(1 1.06)">90</text>
</g>
<text x="799.7" y="216.9" style="font-size:36.31px;font-weight:bold;" fill="#000" textLength="56.5" lengthAdjust="spacingAndGlyphs">100</text>
</g>
<!-- category labels -->
<g>
<text x="587.0" y="155.7" style="font-size:35.47px;font-weight:bold;" fill="#000" textLength="559.3" lengthAdjust="spacingAndGlyphs">FUNCIONAMIENTO PERSONAL</text>
<text x="371.2" y="282.9" style="font-size:33.10px;font-weight:bold;" fill="#000" textLength="116.6" lengthAdjust="spacingAndGlyphs">SUEÑO</text>
<text x="1223.4" y="282.9" style="font-size:33.24px;font-weight:bold;" fill="#000" textLength="173.7" lengthAdjust="spacingAndGlyphs">ANSIEDAD</text>
<text x="85.5" y="687.7" style="font-size:36.45px;font-weight:bold;" fill="#000" textLength="352.1" lengthAdjust="spacingAndGlyphs">FUNCIONAMIENTO</text>
<text x="203.2" y="732.6" style="font-size:36.17px;font-weight:bold;" fill="#000" textLength="118.2" lengthAdjust="spacingAndGlyphs">FÍSICO</text>
<text x="1368.2" y="673.0" style="font-size:33.38px;font-weight:bold;" fill="#000" textLength="180.2" lengthAdjust="spacingAndGlyphs">SÍNTOMAS</text>
<text x="1355.6" y="713.0" style="font-size:33.24px;font-weight:bold;" fill="#000" textLength="207.0" lengthAdjust="spacingAndGlyphs">DEPRESIVOS</text>
<text x="1159.2" y="1092.8" style="font-size:33.24px;font-weight:bold;" fill="#000" textLength="281.2" lengthAdjust="spacingAndGlyphs">CATASTROFISMO</text>
<text x="224.4" y="1113.8" style="font-size:32.54px;font-weight:bold;" fill="#000" textLength="330.2" lengthAdjust="spacingAndGlyphs">EFECTOS ADVERSOS</text>
<text x="654.0" y="1258.2" style="font-size:33.80px;font-weight:bold;" fill="#000" textLength="401.5" lengthAdjust="spacingAndGlyphs">SATISFACCIÓN GENERAL</text>
</g>
<g >
<!-- data -->
<path d="M859.4,352.2 L863.1,352.2 L866.7,352.4 L870.4,352.6 L874.1,353.0 L877.7,353.5 L881.4,354.2 L885.1,354.9 L888.8,355.7 L892.5,356.7 L896.1,357.7 L899.8,358.8 L903.5,360.1 L907.2,361.4 L910.9,362.8 L914.6,364.3 L918.3,365.9 L922.0,367.5 L925.7,369.3 L929.4,371.1 L933.1,373.0 L936.8,374.9 L940.5,376.9 L944.2,379.0 L947.9,381.2 L951.6,383.4 L955.3,385.6 L959.0,388.0 L962.7,390.3 L966.4,392.7 L970.1,395.2 L973.8,397.7 L977.5,400.3 L981.2,402.8 L984.9,405.5 L988.6,408.1 L992.3,410.8 L996.0,413.5 L999.7,416.2 L1003.4,419.0 L1007.0,421.8 L1010.7,424.5 L1014.4,427.3 L1018.1,430.1 L1021.7,433.0 L1025.4,435.8 L1029.1,438.6 L1032.7,441.4 L1036.4,444.2 L1040.0,447.0 L1043.7,449.8 L1047.3,452.6 L1051.0,455.4 L1054.6,458.2 L1058.2,460.9 L1061.8,463.6 L1065.4,466.3 L1069.1,469.0 L1072.7,471.6 L1076.3,474.2 L1079.8,476.8 L1083.8,479.6 L1087.9,482.4 L1092.1,485.3 L1096.4,488.1 L1100.8,491.0 L1105.2,493.9 L1109.7,496.9 L1114.3,499.9 L1118.9,502.8 L1123.6,505.8 L1128.4,508.9 L1133.2,511.9 L1138.0,515.0 L1142.9,518.1 L1147.7,521.2 L1152.7,524.3 L1157.6,527.4 L1162.5,530.6 L1167.5,533.8 L1172.5,537.0 L1177.4,540.2 L1182.3,543.4 L1187.3,546.7 L1192.2,550.0 L1197.1,553.3 L1201.9,556.6 L1206.7,559.9 L1211.5,563.3 L1216.3,566.6 L1220.9,570.0 L1225.6,573.4 L1230.1,576.8 L1234.6,580.2 L1239.0,583.7 L1243.4,587.2 L1247.6,590.6 L1251.8,594.1 L1255.8,597.6 L1259.8,601.2 L1263.7,604.7 L1267.4,608.3 L1271.1,611.8 L1274.6,615.4 L1278.0,619.0 L1281.2,622.6 L1284.3,626.3 L1287.3,629.9 L1290.1,633.6 L1292.8,637.2 L1295.3,640.9 L1297.6,644.6 L1299.8,648.3 L1301.8,652.0 L1303.6,655.8 L1305.2,659.5 L1306.7,663.3 L1307.9,667.0 L1309.0,670.8 L1309.8,674.6 L1310.4,678.4 L1310.8,682.3 L1311.0,686.2 L1311.1,690.3 L1310.9,694.4 L1310.6,698.6 L1310.2,702.9 L1309.5,707.2 L1308.7,711.7 L1307.8,716.1 L1306.6,720.7 L1305.4,725.3 L1304.0,729.9 L1302.4,734.6 L1300.7,739.4 L1298.9,744.2 L1296.9,749.0 L1294.8,753.8 L1292.6,758.7 L1290.3,763.6 L1287.9,768.5 L1285.3,773.4 L1282.6,778.4 L1279.9,783.3 L1277.0,788.3 L1274.0,793.2 L1271.0,798.2 L1267.8,803.1 L1264.6,808.0 L1261.3,812.9 L1257.9,817.8 L1254.4,822.7 L1250.9,827.5 L1247.3,832.3 L1243.6,837.1 L1239.9,841.8 L1236.1,846.4 L1232.3,851.1 L1228.4,855.6 L1224.5,860.2 L1220.6,864.6 L1216.6,869.0 L1212.6,873.3 L1208.5,877.5 L1204.5,881.7 L1200.4,885.8 L1196.3,889.8 L1192.2,893.7 L1188.1,897.5 L1183.9,901.2 L1179.8,904.8 L1175.7,908.4 L1171.6,911.8 L1167.5,915.0 L1163.4,918.2 L1159.3,921.3 L1155.3,924.2 L1151.3,927.0 L1147.3,929.6 L1143.3,932.1 L1139.4,934.5 L1135.6,936.7 L1131.8,938.8 L1127.8,940.9 L1123.7,942.9 L1119.6,944.9 L1115.3,946.8 L1111.0,948.7 L1106.5,950.5 L1102.0,952.2 L1097.4,953.9 L1092.8,955.6 L1088.1,957.2 L1083.3,958.7 L1078.5,960.2 L1073.6,961.6 L1068.6,963.0 L1063.7,964.3 L1058.6,965.5 L1053.6,966.7 L1048.4,967.9 L1043.3,968.9 L1038.1,969.9 L1033.0,970.9 L1027.7,971.8 L1022.5,972.6 L1017.3,973.4 L1012.0,974.1 L1006.8,974.7 L1001.5,975.3 L996.3,975.8 L991.0,976.3 L985.8,976.6 L980.6,977.0 L975.4,977.2 L970.2,977.4 L965.1,977.5 L959.9,977.6 L954.9,977.5 L949.8,977.5 L944.8,977.3 L939.8,977.1 L934.9,976.8 L930.1,976.4 L925.3,976.0 L920.5,975.5 L915.9,974.9 L911.3,974.3 L906.7,973.5 L902.3,972.8 L897.9,971.9 L893.6,970.9 L889.4,969.9 L885.3,968.8 L881.3,967.7 L877.4,966.4 L873.5,965.1 L869.8,963.7 L866.2,962.3 L862.8,960.7 L859.4,959.1 L856.6,957.6 L853.9,955.9 L851.2,954.2 L848.7,952.3 L846.3,950.3 L843.9,948.3 L841.6,946.1 L839.4,943.8 L837.2,941.4 L835.1,938.9 L833.1,936.3 L831.2,933.7 L829.3,930.9 L827.4,928.1 L825.7,925.2 L823.9,922.2 L822.2,919.2 L820.6,916.1 L819.0,912.9 L817.4,909.7 L815.9,906.5 L814.4,903.2 L812.9,899.8 L811.5,896.4 L810.0,893.0 L808.6,889.5 L807.2,886.0 L805.9,882.5 L804.5,878.9 L803.1,875.4 L801.8,871.8 L800.4,868.2 L799.0,864.6 L797.7,861.0 L796.3,857.4 L794.9,853.9 L793.5,850.3 L792.1,846.7 L790.6,843.2 L789.1,839.6 L787.6,836.1 L786.1,832.6 L784.5,829.2 L782.9,825.8 L781.3,822.4 L779.6,819.1 L777.8,815.8 L776.0,812.5 L774.2,809.3 L772.3,806.2 L770.3,803.2 L768.3,800.2 L766.2,797.2 L764.0,794.4 L761.8,791.6 L759.5,788.9 L757.1,786.3 L754.6,783.7 L752.1,781.3 L749.4,779.0 L746.3,776.4 L743.1,774.0 L739.6,771.7 L736.0,769.4 L732.3,767.2 L728.4,765.1 L724.4,763.0 L720.2,761.1 L715.9,759.2 L711.5,757.3 L707.0,755.5 L702.4,753.8 L697.7,752.1 L692.9,750.5 L688.0,748.9 L683.1,747.4 L678.0,745.9 L673.0,744.4 L667.9,743.0 L662.7,741.6 L657.5,740.3 L652.3,738.9 L647.0,737.6 L641.8,736.3 L636.5,735.1 L631.2,733.8 L626.0,732.6 L620.7,731.4 L615.5,730.1 L610.3,728.9 L605.2,727.7 L600.1,726.5 L595.0,725.2 L590.0,724.0 L585.1,722.7 L580.2,721.4 L575.4,720.2 L570.8,718.8 L566.2,717.5 L561.7,716.1 L557.3,714.7 L553.0,713.3 L548.9,711.9 L544.9,710.3 L541.0,708.8 L537.3,707.2 L533.7,705.6 L530.3,703.9 L527.1,702.1 L524.0,700.3 L521.2,698.4 L518.5,696.5 L516.0,694.5 L513.7,692.4 L511.6,690.3 L509.8,688.1 L508.2,685.8 L506.8,683.4 L505.6,681.0 L504.7,678.4 L504.1,675.9 L503.6,673.3 L503.3,670.6 L503.2,667.9 L503.2,665.1 L503.4,662.2 L503.7,659.3 L504.2,656.3 L504.9,653.3 L505.7,650.2 L506.6,647.0 L507.7,643.8 L508.9,640.6 L510.2,637.3 L511.7,633.9 L513.2,630.5 L514.9,627.1 L516.7,623.7 L518.7,620.2 L520.7,616.7 L522.8,613.1 L525.0,609.6 L527.3,606.0 L529.7,602.4 L532.2,598.8 L534.8,595.1 L537.4,591.4 L540.1,587.8 L542.9,584.1 L545.7,580.4 L548.6,576.7 L551.6,573.0 L554.6,569.4 L557.7,565.7 L560.8,562.0 L564.0,558.3 L567.1,554.7 L570.4,551.0 L573.6,547.4 L576.9,543.8 L580.2,540.2 L583.5,536.6 L586.8,533.1 L590.2,529.6 L593.5,526.1 L596.8,522.6 L600.2,519.2 L603.5,515.8 L606.8,512.5 L610.1,509.2 L613.4,505.9 L616.7,502.7 L619.9,499.6 L623.1,496.5 L626.3,493.4 L629.4,490.4 L632.5,487.5 L635.6,484.6 L638.6,481.8 L641.5,479.1 L644.5,476.3 L647.5,473.5 L650.6,470.7 L653.7,467.9 L656.9,465.0 L660.1,462.1 L663.3,459.3 L666.6,456.4 L669.9,453.5 L673.2,450.6 L676.6,447.7 L680.0,444.7 L683.4,441.8 L686.9,438.9 L690.4,436.0 L693.9,433.2 L697.4,430.3 L701.0,427.4 L704.6,424.6 L708.2,421.8 L711.8,419.0 L715.5,416.2 L719.2,413.4 L722.9,410.7 L726.6,408.0 L730.3,405.4 L734.1,402.7 L737.8,400.1 L741.6,397.6 L745.4,395.1 L749.2,392.6 L753.0,390.2 L756.8,387.9 L760.6,385.6 L764.5,383.3 L768.3,381.1 L772.1,379.0 L776.0,376.9 L779.8,374.9 L783.7,373.0 L787.5,371.1 L791.4,369.4 L795.2,367.6 L799.1,366.0 L802.9,364.4 L806.8,363.0 L810.6,361.6 L814.4,360.2 L818.2,359.0 L822.0,357.9 L825.8,356.9 L829.6,355.9 L833.4,355.1 L837.2,354.3 L840.9,353.7 L844.6,353.2 L848.4,352.8 L852.1,352.4 L855.7,352.2 Z" fill="none" stroke="#2f5597" stroke-width="12" stroke-linejoin="round"/>
<path d="M859.4,524.2 L862.6,524.8 L865.8,525.4 L869.0,526.1 L872.2,526.8 L875.4,527.6 L878.6,528.4 L881.8,529.3 L884.9,530.1 L888.1,531.1 L891.2,532.0 L894.3,533.0 L897.4,534.0 L900.5,535.1 L903.6,536.2 L906.6,537.4 L909.7,538.5 L912.7,539.8 L915.7,541.0 L918.7,542.3 L921.6,543.6 L924.6,545.0 L927.5,546.3 L930.4,547.8 L933.2,549.2 L936.1,550.7 L938.9,552.2 L941.7,553.8 L944.4,555.3 L947.2,556.9 L949.9,558.6 L952.6,560.3 L955.2,561.9 L957.8,563.7 L960.4,565.4 L963.0,567.2 L965.5,569.0 L968.0,570.8 L970.5,572.7 L972.9,574.6 L976.1,576.2 L979.2,578.0 L982.3,579.8 L985.4,581.6 L988.5,583.6 L991.6,585.5 L994.7,587.5 L997.8,589.6 L1000.9,591.7 L1003.9,593.9 L1007.0,596.1 L1010.0,598.4 L1013.0,600.7 L1015.9,603.1 L1018.9,605.5 L1021.8,608.0 L1024.7,610.5 L1027.6,613.1 L1030.5,615.8 L1033.3,618.5 L1036.1,621.2 L1038.8,624.0 L1041.5,626.8 L1044.2,629.7 L1046.9,632.7 L1049.5,635.6 L1052.0,638.7 L1054.6,641.7 L1057.0,644.9 L1059.5,648.0 L1061.9,651.2 L1064.2,654.5 L1066.5,657.8 L1068.8,661.1 L1071.0,664.5 L1073.1,667.9 L1075.2,671.4 L1077.3,674.9 L1079.2,678.4 L1075.1,681.3 L1071.0,684.2 L1066.7,687.0 L1062.5,689.6 L1058.1,692.2 L1053.8,694.7 L1049.4,697.0 L1045.0,699.3 L1040.5,701.5 L1036.0,703.6 L1031.5,705.6 L1026.9,707.4 L1022.4,709.2 L1017.8,710.9 L1013.2,712.5 L1008.6,714.0 L1004.0,715.4 L999.4,716.6 L994.8,717.8 L990.2,718.9 L985.6,719.9 L981.0,720.8 L976.4,721.6 L971.8,722.3 L967.3,722.9 L962.8,723.4 L958.3,723.9 L953.8,724.2 L949.3,724.4 L944.9,724.6 L940.5,724.6 L936.2,724.6 L931.9,724.5 L927.6,724.3 L923.4,724.0 L919.2,723.6 L915.1,723.2 L911.1,722.6 L907.1,722.0 L907.1,724.6 L907.1,727.2 L907.0,729.9 L906.9,732.6 L906.7,735.3 L906.4,738.0 L906.1,740.8 L905.7,743.5 L905.3,746.3 L904.8,749.1 L904.2,751.9 L903.5,754.8 L902.8,757.6 L902.0,760.5 L901.1,763.3 L900.2,766.2 L899.2,769.0 L898.1,771.9 L897.0,774.8 L895.8,777.6 L894.5,780.5 L893.2,783.4 L891.7,786.2 L890.2,789.0 L888.7,791.9 L887.0,794.7 L885.3,797.5 L883.5,800.3 L881.7,803.0 L879.8,805.8 L877.8,808.5 L875.7,811.2 L873.6,813.8 L871.4,816.5 L869.1,819.1 L866.8,821.7 L864.4,824.2 L861.9,826.7 L859.4,829.2 L856.7,827.2 L854.1,825.2 L851.5,823.1 L849.0,821.0 L846.5,818.8 L844.1,816.6 L841.7,814.4 L839.4,812.2 L837.1,809.9 L834.9,807.6 L832.8,805.3 L830.7,803.0 L828.6,800.6 L826.7,798.2 L824.7,795.8 L822.9,793.4 L821.1,791.0 L819.3,788.5 L817.6,786.1 L816.0,783.6 L814.4,781.1 L812.9,778.6 L811.5,776.1 L810.1,773.6 L808.8,771.1 L807.5,768.6 L806.2,766.1 L805.1,763.6 L804.0,761.1 L802.9,758.6 L801.9,756.1 L801.0,753.6 L800.1,751.1 L799.3,748.6 L798.5,746.1 L797.8,743.7 L797.1,741.2 L796.5,738.8 L796.0,736.4 L790.0,737.5 L783.9,738.6 L777.8,739.5 L771.6,740.2 L765.3,740.9 L758.9,741.4 L752.4,741.8 L745.9,742.1 L739.3,742.2 L732.7,742.2 L726.0,742.0 L719.3,741.8 L712.5,741.3 L705.7,740.8 L698.8,740.1 L692.0,739.2 L685.1,738.2 L678.1,737.1 L671.2,735.8 L664.2,734.3 L657.3,732.7 L650.3,731.0 L643.3,729.1 L636.4,727.0 L629.4,724.8 L622.5,722.5 L615.6,720.0 L608.7,717.4 L601.9,714.6 L595.0,711.6 L588.3,708.5 L581.5,705.3 L574.9,701.9 L568.2,698.3 L561.7,694.6 L555.2,690.8 L548.8,686.8 L542.4,682.7 L536.1,678.4 L540.6,673.6 L545.1,668.9 L549.7,664.4 L554.4,659.9 L559.1,655.5 L563.9,651.2 L568.8,647.0 L573.8,642.9 L578.8,638.9 L583.8,635.1 L588.9,631.3 L594.1,627.6 L599.3,624.1 L604.5,620.6 L609.8,617.2 L615.1,614.0 L620.5,610.9 L625.8,607.8 L631.2,604.9 L636.7,602.1 L642.1,599.4 L647.6,596.8 L653.0,594.3 L658.5,591.9 L664.0,589.7 L669.5,587.5 L675.0,585.4 L680.4,583.5 L685.9,581.6 L691.4,579.9 L696.8,578.2 L702.3,576.7 L707.7,575.3 L713.0,573.9 L718.4,572.7 L723.7,571.6 L729.0,570.5 L734.3,569.6 L739.5,568.8 L742.2,567.0 L744.9,565.2 L747.6,563.4 L750.4,561.7 L753.2,560.1 L756.0,558.4 L758.9,556.8 L761.8,555.2 L764.7,553.7 L767.6,552.1 L770.5,550.7 L773.5,549.2 L776.5,547.8 L779.5,546.4 L782.5,545.1 L785.6,543.8 L788.7,542.5 L791.7,541.3 L794.9,540.1 L798.0,538.9 L801.1,537.8 L804.3,536.7 L807.5,535.6 L810.6,534.6 L813.8,533.7 L817.0,532.7 L820.3,531.8 L823.5,531.0 L826.7,530.2 L830.0,529.4 L833.2,528.6 L836.5,527.9 L839.7,527.3 L843.0,526.7 L846.3,526.1 L849.6,525.6 L852.8,525.1 L856.1,524.6 L859.4,524.2 Z" fill="none" stroke="#ff0000" stroke-width="9.5" stroke-linejoin="miter" stroke-miterlimit="4"/>
</g>
<!-- legend -->
<rect x="1371" y="1146" width="636.5" height="135" fill="#fff" stroke="#000" stroke-width="2"/>
<rect x="1406" y="1190.2" width="142.5" height="8.4" fill="#2f5597"/>
<rect x="1406" y="1233.2" width="142.5" height="8.4" fill="#ff0000"/>
<text x="1559.4" y="1203.8" style="font-size:25.14px;font-weight:bold;" fill="#000" textLength="335.9" lengthAdjust="spacingAndGlyphs">ANTES DEL TRATAMIENTO</text>
<text x="1561.1" y="1240.7" style="font-size:24.86px;font-weight:bold;" fill="#000" textLength="366.1" lengthAdjust="spacingAndGlyphs">DESPUÉS DEL TRATAMIENTO</text>
</svg>
<div class="rule"></div>
<div class="cap j" style="top:1366.1px"><span><b>Fig</b>.</span><span><b>2</b>.</span><span>Se</span><span>muestra</span><span>un</span><span>ejemplo</span><span>de</span><span>diagrama</span><span>radial</span><span>incluyendo</span><span>los</span><span>seis</span><span>niveles</span><span>de</span><span>análisis</span><span>adicionales</span><span>a</span><span>la</span><span>intensidad</span><span>del</span></div>
<div class="cap j" style="top:1409.6px"><span>dolor</span><span>necesarios</span><span>para</span><span>la</span><span>valoración</span><span>multidimensional</span><span>de</span><span>un</span><span>caso</span><span>clínico</span><span>real</span><span>de</span><span>dolor</span><span>crónico</span><span>infanto-juvenil.</span><span>En</span><span>líneas</span><span>azules</span></div>
<div class="cap j" style="top:1453.0px"><span>se</span><span>muestran</span><span>las</span><span>puntuaciones</span><span>normalizadas</span><span>en</span><span>cada</span><span>uno</span><span>de</span><span>los</span><span>niveles</span><span>antes</span><span>del</span><span>inicio</span><span>del</span><span>tratamiento</span><span>y</span><span>en</span><span>líneas</span><span>rojas</span></div>
<div class="cap j" style="top:1496.8px"><span>las</span><span>puntuaciones</span><span>después</span><span>del</span><span>tratamiento.</span><span>Obsérvese</span><span>el</span><span>tamaño</span><span>de</span><span>los</span><span>polígonos</span><span>resultantes</span><span>que</span><span>informan</span><span>del</span><span>grado</span><span>de</span></div>
<div class="cap" style="top:1541.0px;word-spacing:4.2px">afectación multidimensional asociado a cada circunstancia clínica.</div>
</body></html>
